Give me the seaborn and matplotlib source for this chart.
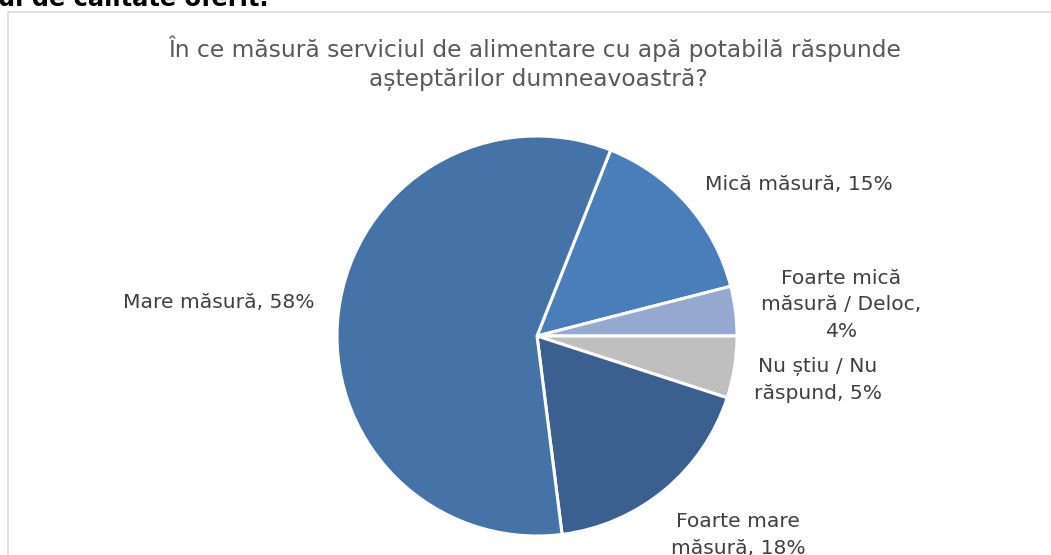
import matplotlib
matplotlib.use("Agg")
import matplotlib.pyplot as plt
import seaborn as sns
from matplotlib.patches import Rectangle

# ---- data ----
categories = ["Mică măsură", "Foarte mică măsură / Deloc", "Nu știu / Nu răspund",
              "Foarte mare măsură", "Mare măsură"]
values = [15, 4, 5, 18, 58]
label_texts = ["Mică măsură, 15%", "Foarte mică\nmăsură / Deloc,\n4%",
               "Nu știu / Nu\nrăspund, 5%", "Foarte mare\nmăsură, 18%",
               "Mare măsură, 58%"]
colors = ["#4A7EBB", "#95A8CF", "#BFBFBF", "#3B5F8E", "#4573A8"]
title_lines = ["În ce măsură serviciul de alimentare cu apă potabilă răspunde",
               "așteptărilor dumneavoastră?"]
top_text = "ul de calitate oferit."

sns.set_theme(style="white")
plt.rcParams['font.family'] = ['DejaVu Sans']

W, H = 1051, 555
fig = plt.figure(figsize=(W / 100, H / 100), dpi=100)
fig.patch.set_facecolor("white")

# chart border (Excel chart area)
fig.patches.append(Rectangle((8 / W, -0.1), 1.2, (H - 12) / H + 0.1,
                             transform=fig.transFigure, fill=False,
                             edgecolor="#D9D9D9", linewidth=1.2))

# top cut-off text
fig.text(-2 / W, 1 - 6 / H, top_text, fontsize=17.4, fontweight="bold",
         color="black", ha="left", va="baseline")

cx, cy, R = 537, 336, 200
ax = fig.add_axes([0, 0, 1, 1])

ax.pie(values, colors=colors, startangle=90 - 21.6, counterclock=False,
       radius=1.0, center=(0, 0), frame=True,
       wedgeprops=dict(edgecolor="white", linewidth=2.2))
ax.set_xlim(-cx / R, (W - cx) / R)
ax.set_ylim((cy - H) / R, cy / R)
ax.set_aspect("equal")
ax.axis("off")

def px(x, y):
    return (x - cx) / R, (cy - y) / R

label_pos = [(799, 185), (841, 305), (818, 380), (738, 535), (219, 302)]
for txt, (x, y) in zip(label_texts, label_pos):
    dx, dy = px(x, y)
    ax.text(dx, dy, txt, ha="center", va="center", fontsize=14.6,
            color="#404040", linespacing=1.5)

title_pos = [(535, 57), (538, 86)]
for line, (x, y) in zip(title_lines, title_pos):
    fig.text(x / W, 1 - y / H, line, ha="center", va="baseline",
             fontsize=16.8, color="#595959")

fig.savefig("out.png", dpi=100, facecolor="white")
